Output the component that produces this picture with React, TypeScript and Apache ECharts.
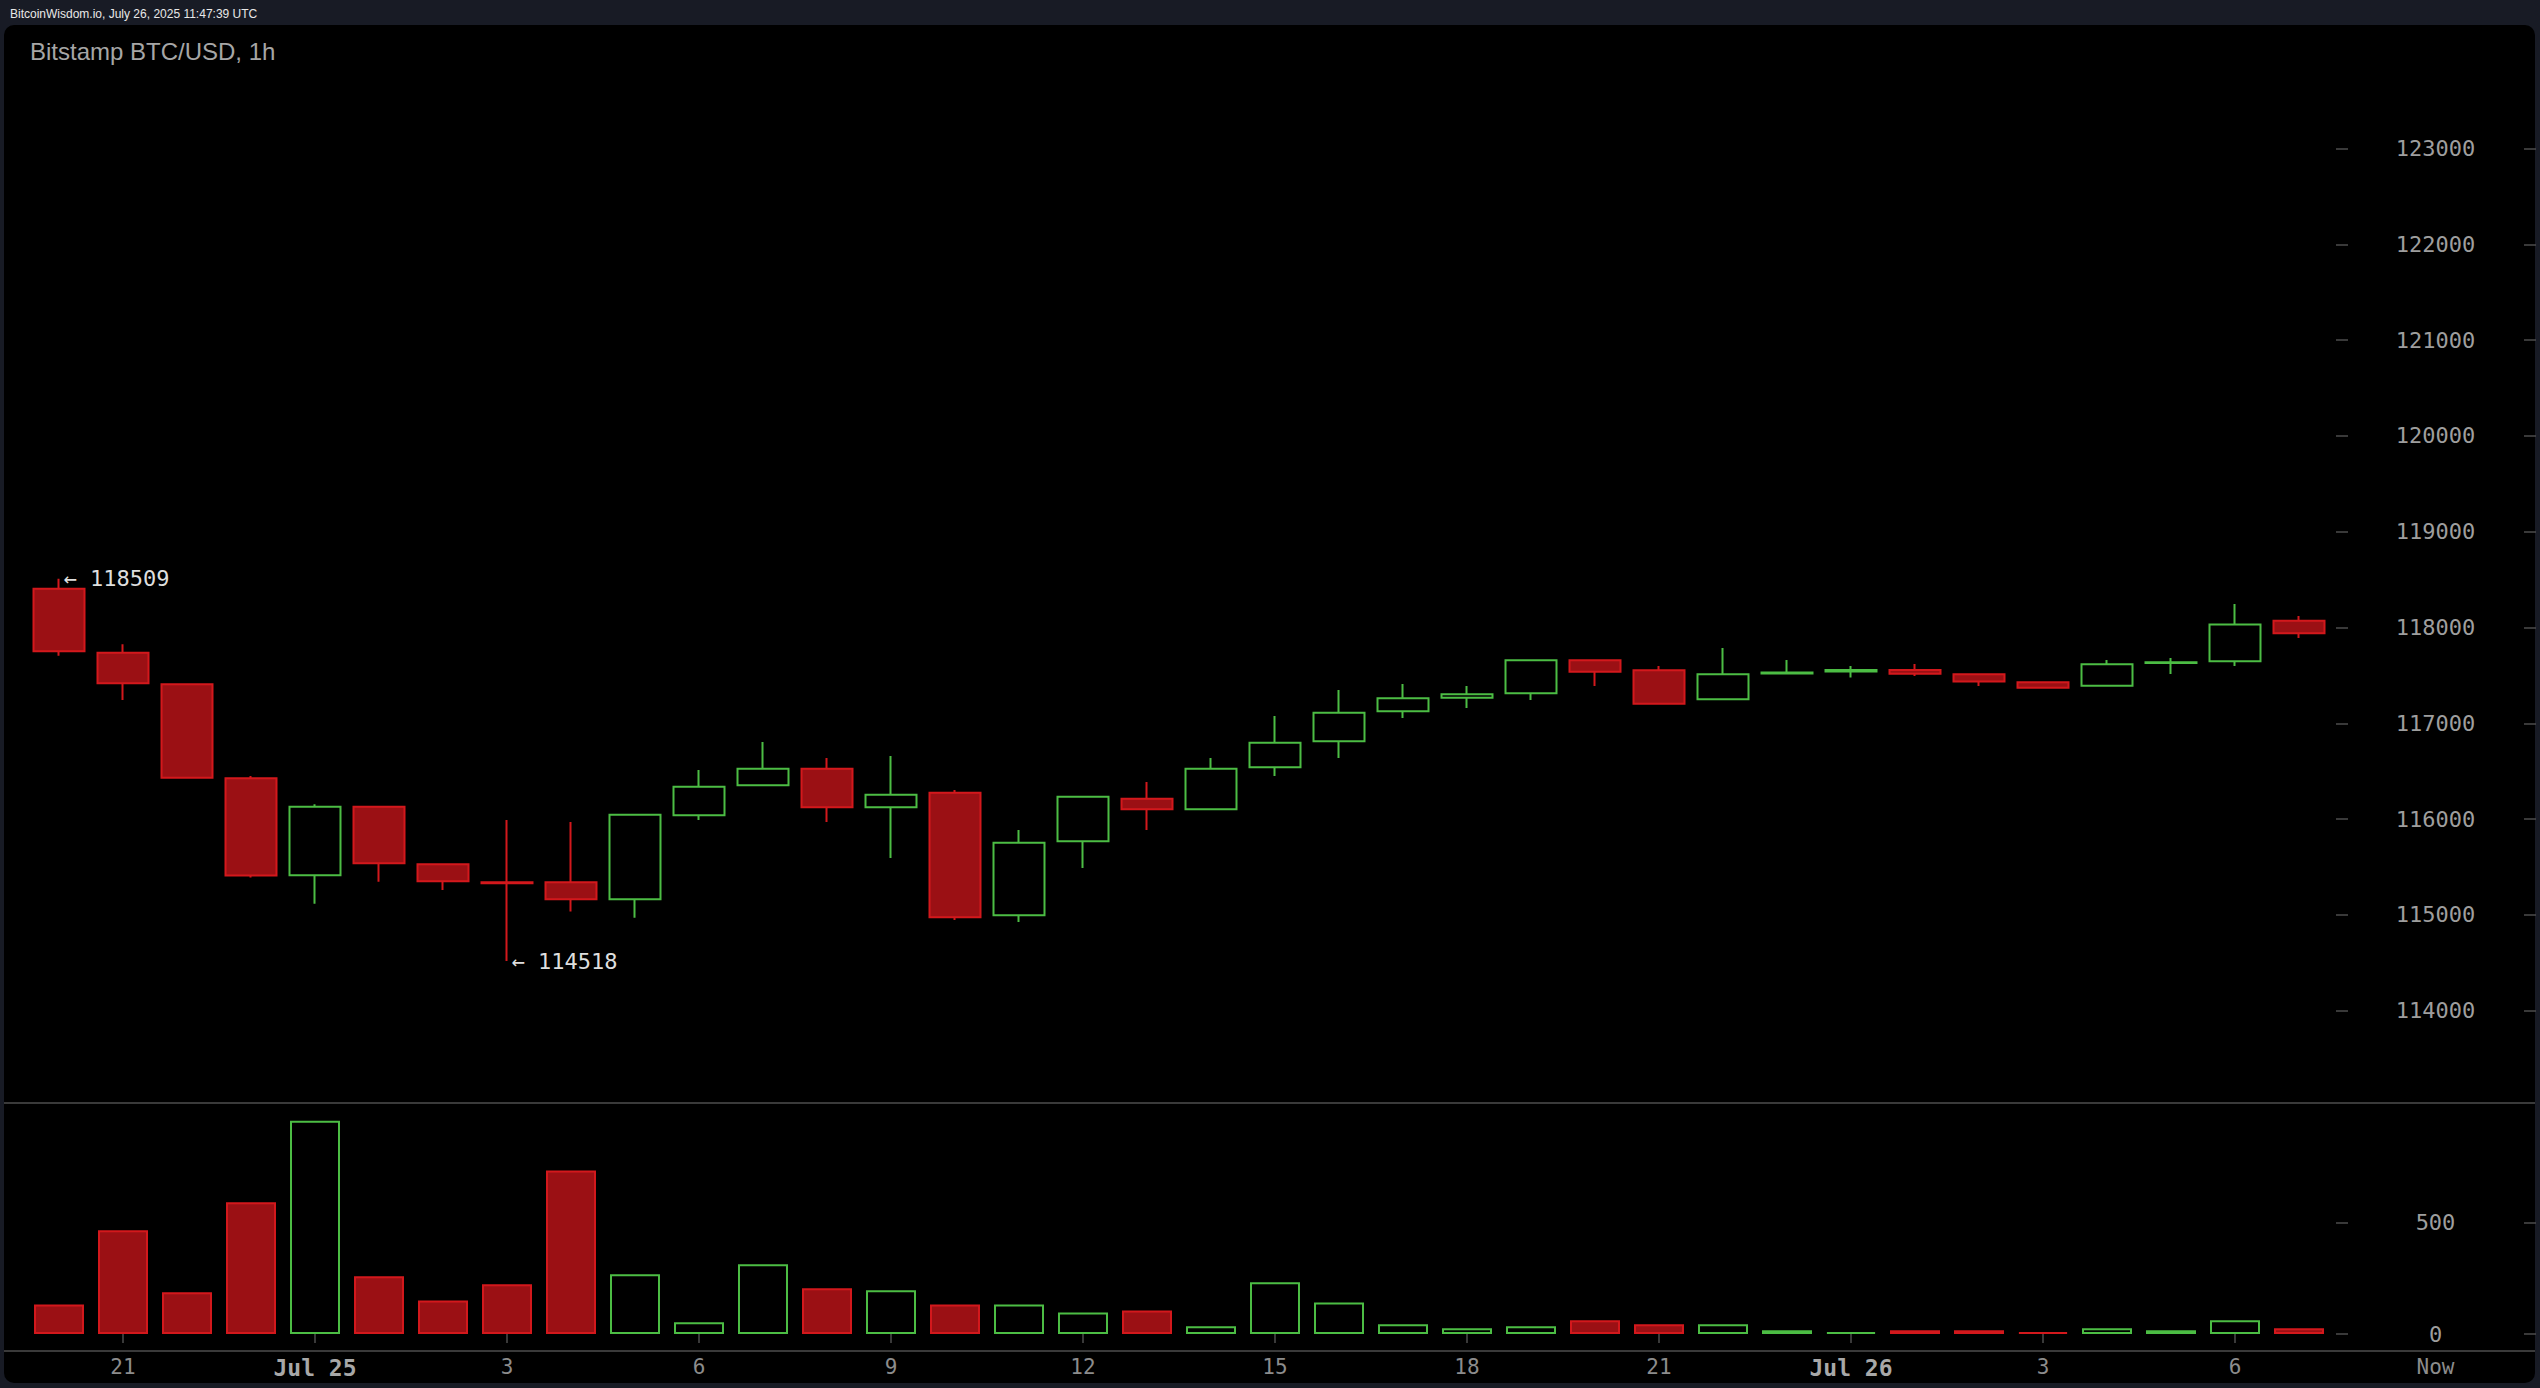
import React, { useEffect, useRef } from 'react';
import * as echarts from 'echarts';

// ---- data (1h candles, Jul 24 20:00 -> Jul 26 07:00) ----
const hours = [
  '20', '21', '22', '23',
  'Jul 25', '1', '2', '3', '4', '5', '6', '7', '8', '9', '10', '11', '12',
  '13', '14', '15', '16', '17', '18', '19', '20', '21', '22', '23',
  'Jul 26', '1', '2', '3', '4', '5', '6', '7',
];
const opens = [
  118405, 117737, 117407, 116426, 115414, 116130, 115528, 115340, 115341, 115163,
  116040, 116353, 116526, 116123, 116276, 114996, 115769, 116213, 116103, 116541,
  116812, 117125, 117267, 117313, 117658, 117553, 117251, 117520, 117540, 117557,
  117512, 117428, 117393, 117628, 117647, 118071,
];
const highs = [
  118509, 117825, 117415, 116450, 116155, 116140, 115535, 115991, 115970, 116050,
  116513, 116805, 116638, 116659, 116304, 115886, 116238, 116387, 116638, 117076,
  117348, 117410, 117390, 117662, 117662, 117598, 117786, 117661, 117598, 117619,
  117515, 117432, 117661, 117682, 118246, 118120,
];
const lows = [
  117706, 117243, 116425, 115389, 115117, 115347, 115260, 114518, 115034, 114971,
  115991, 116345, 115970, 115594, 114947, 114926, 115490, 115886, 116100, 116450,
  116638, 117056, 117160, 117243, 117390, 117203, 117249, 117516, 117477, 117494,
  117390, 117368, 117390, 117515, 117598, 117891,
];
const closes = [
  117752, 117418, 116432, 115410, 116130, 115539, 115351, 115330, 115163, 116046,
  116338, 116526, 116123, 116255, 114975, 115754, 116234, 116103, 116526, 116798,
  117111, 117261, 117303, 117658, 117539, 117205, 117512, 117530, 117555, 117518,
  117435, 117372, 117616, 117638, 118030, 117940,
];
const volumes = [
  133, 466, 187, 592, 958, 259, 151, 223, 735, 268,
  53, 313, 205, 196, 133, 133, 97, 106, 35, 232,
  142, 44, 26, 35, 62, 44, 44, 17, 8, 17,
  17, 8, 26, 17, 62, 26,
];
const priceTicks = [114000, 115000, 116000, 117000, 118000, 119000, 120000, 121000, 122000, 123000];
const volumeTicks = [0, 500];

const headerText = 'BitcoinWisdom.io, July 26, 2025 11:47:39 UTC';
const titleText = 'Bitstamp BTC/USD, 1h';

// ---- styles ----
const UP = '#4cbd44';
const DOWN_FILL = '#9b1014';
const DOWN_BORDER = '#d3181c';
const MONO = '"DejaVu Sans Mono", monospace';
const SANS = '"Liberation Sans", Arial, sans-serif';
const TICK = '#4d4d4d';

export default function App() {
  const ref = useRef<HTMLDivElement>(null);

  useEffect(() => {
    if (!ref.current) return;
    const chart = echarts.init(ref.current, undefined, { renderer: 'svg' });

    const candles = opens.map((o, i) => [o, closes[i], lows[i], highs[i]]);
    let hiIdx = 0, loIdx = 0;
    highs.forEach((h, i) => { if (h > highs[hiIdx]) hiIdx = i; });
    lows.forEach((l, i) => { if (l < lows[loIdx]) loIdx = i; });

    const volData = volumes.map((v, i) => ({
      value: v,
      itemStyle: closes[i] >= opens[i]
        ? { color: '#000000', borderColor: UP, borderWidth: 2 }
        : { color: DOWN_FILL, borderColor: DOWN_BORDER, borderWidth: 2 },
    }));

    const labelEvery = (i: number) => i % 3 === 1;

    const tickAxis = (grid: number, min: number, max: number, vals: number[], offset: number, withLabel: boolean) => ({
      type: 'value',
      gridIndex: grid,
      position: 'right',
      min, max,
      offset,
      axisLine: { show: false },
      splitLine: { show: false },
      axisTick: { show: true, length: 12, inside: false, customValues: vals, lineStyle: { color: TICK, width: 1.5 } },
      axisLabel: withLabel
        ? {
            show: true, customValues: vals, margin: 99.5, align: 'center',
            color: '#9e9e9e', fontFamily: MONO, fontSize: 22,
            formatter: (v: number) => String(v),
          }
        : { show: false },
    });

    chart.setOption({
      animation: false,
      backgroundColor: '#181b25',
      graphic: [
        { type: 'rect', z: -10, shape: { x: 4, y: 25, width: 2531, height: 1358, r: 10 }, style: { fill: '#000000' } },
        { type: 'text', x: 10, y: 14, style: { text: headerText, fill: '#e8e8e8', fontSize: 12, fontFamily: SANS, verticalAlign: 'middle' } },
        { type: 'text', x: 30, y: 51.5, style: { text: titleText, fill: '#a6a6a6', fontSize: 24, fontFamily: SANS, verticalAlign: 'middle' } },
        { type: 'line', shape: { x1: 4, y1: 1103, x2: 2535, y2: 1103 }, style: { stroke: '#3a3a3a', lineWidth: 2 } },
        { type: 'line', shape: { x1: 4, y1: 1351, x2: 2535, y2: 1351 }, style: { stroke: '#3a3a3a', lineWidth: 2 } },
        { type: 'text', x: 2435.5, y: 1367, style: { text: 'Now', fill: '#8c8c8c', fontSize: 21, fontFamily: MONO, align: 'center', verticalAlign: 'middle' } },
      ],
      grid: [
        { left: 27, top: 43.1, width: 2304, height: 1053.8 },
        { left: 27, top: 1111.4, width: 2304, height: 222.6 },
      ],
      xAxis: [
        {
          type: 'category', gridIndex: 0, data: hours, boundaryGap: true,
          axisLine: { show: false }, axisTick: { show: false }, axisLabel: { show: false }, splitLine: { show: false },
        },
        {
          type: 'category', gridIndex: 1, data: hours, boundaryGap: true, offset: 17,
          axisLine: { show: false },
          splitLine: { show: false },
          axisTick: { show: true, alignWithLabel: true, interval: labelEvery, length: 9, lineStyle: { color: TICK, width: 1.5 } },
          axisLabel: {
            show: true, interval: labelEvery, margin: 5,
            color: '#8c8c8c', fontFamily: MONO, fontSize: 21,
            formatter: (v: string) => (v.startsWith('Jul') ? `{d|${v}}` : v),
            rich: { d: { color: '#a8a8a8', fontFamily: MONO, fontSize: 23, fontWeight: 'bold' } },
          },
        },
      ],
      yAxis: [
        tickAxis(0, 113100, 124100, priceTicks, 5, true),
        tickAxis(0, 113100, 124100, priceTicks, 193, false),
        tickAxis(1, 0, 1000, volumeTicks, 5, true),
        tickAxis(1, 0, 1000, volumeTicks, 193, false),
      ],
      series: [
        {
          type: 'candlestick',
          xAxisIndex: 0, yAxisIndex: 0,
          data: candles,
          barWidth: 51, barMaxWidth: 51,
          itemStyle: { color: '#000000', color0: DOWN_FILL, borderColor: UP, borderColor0: DOWN_BORDER, borderWidth: 2 },
          markPoint: {
            symbol: 'circle', symbolSize: 1,
            itemStyle: { color: 'rgba(0,0,0,0)' },
            label: {
              show: true, position: 'right', distance: 4,
              formatter: (p: any) => '\u2190 ' + p.value,
              color: '#dedede', fontFamily: MONO, fontSize: 22,
            },
            data: [
              { coord: [hiIdx, highs[hiIdx]], value: highs[hiIdx] },
              { coord: [loIdx, lows[loIdx]], value: lows[loIdx] },
            ],
          },
        },
        {
          type: 'bar',
          xAxisIndex: 1, yAxisIndex: 2,
          data: volData,
          barWidth: 50,
        },
      ],
    });

    return () => chart.dispose();
  }, []);

  return <div ref={ref} style={{ position: 'fixed', left: 0, top: 0, width: 2540, height: 1388 }} />;
}
